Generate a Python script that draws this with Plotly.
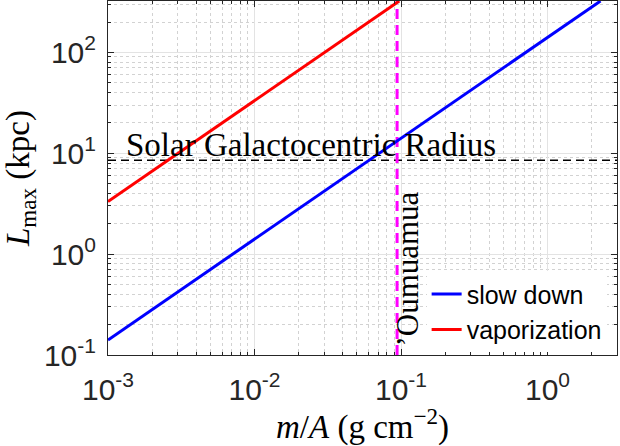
import plotly.graph_objects as go
import numpy as np

# data
slow_x = [0.001, 0.01, 0.1, 1.0, 2.3]
slow_y = [0.141, 1.41, 14.1, 141.0, 323.0]
vap_x = [0.001, 0.01, 0.0973]
vap_y = [3.32, 33.2, 323.0]
solar_radius = 8.5          # kpc
oumuamua_mA = 0.094         # g cm^-2
x_ticks = [1e-3, 1e-2, 1e-1, 1e0]
x_ticktext = ["10<sup>-3</sup>", "10<sup>-2</sup>", "10<sup>-1</sup>", "10<sup>0</sup>"]
y_ticks = [1e-1, 1e0, 1e1, 1e2]
y_ticktext = ["10<sup>-1</sup>", "10<sup>0</sup>", "10<sup>1</sup>", "10<sup>2</sup>"]

x_range = [1e-3, 2.98]
y_range = [0.1, 323.0]

def minor_vals(lo, hi):
    out = []
    for e in range(int(np.floor(np.log10(lo))), int(np.ceil(np.log10(hi))) + 1):
        for d in range(2, 10):
            v = d * 10.0 ** e
            if lo < v < hi:
                out.append(v)
    return out

fig = go.Figure()

fig.add_trace(go.Scatter(x=[x_range[0], x_range[1]], y=[solar_radius, solar_radius],
                         mode="lines", line=dict(color="black", width=1.5, dash="8px,5px"),
                         showlegend=False, hoverinfo="skip"))
fig.add_trace(go.Scatter(x=[oumuamua_mA, oumuamua_mA], y=y_range, mode="lines",
                         line=dict(color="#ff00ff", width=3, dash="10px,6px"),
                         showlegend=False, hoverinfo="skip"))
fig.add_trace(go.Scatter(x=slow_x, y=slow_y, mode="lines", name="slow down",
                         line=dict(color="#0000ff", width=3)))
fig.add_trace(go.Scatter(x=vap_x, y=vap_y, mode="lines", name="vaporization",
                         line=dict(color="#ff0000", width=3)))

serif = "Liberation Serif"
sans = "Liberation Sans, Arial"
axcol = "#262626"

common = dict(type="log", showline=True, linecolor=axcol, linewidth=1, mirror="allticks",
              ticks="inside", ticklen=6, tickcolor=axcol, showgrid=True, gridcolor="#e3e3e3",
              gridwidth=1, zeroline=False, automargin=False,
              tickfont=dict(family=sans, size=30, color=axcol))

fig.update_xaxes(range=[np.log10(x_range[0]), np.log10(x_range[1])],
                 tickmode="array", tickvals=x_ticks, ticktext=x_ticktext,
                 minor=dict(tickmode="array", tickvals=minor_vals(*x_range), ticks="inside",
                            ticklen=3, tickcolor=axcol, showgrid=True, gridcolor="#d2d2d2",
                            griddash="dot", gridwidth=1),
                 title=dict(text="<i>m</i>/<i>A</i> (g cm<sup>−2</sup>)",
                            font=dict(family=serif, size=33, color="black"), standoff=2),
                 ticklabelstandoff=8, **common)
fig.update_yaxes(range=[np.log10(y_range[0]), np.log10(y_range[1])],
                 tickmode="array", tickvals=y_ticks, ticktext=y_ticktext,
                 minor=dict(tickmode="array", tickvals=minor_vals(*y_range), ticks="inside",
                            ticklen=3, tickcolor=axcol, showgrid=True, gridcolor="#d2d2d2",
                            griddash="dot", gridwidth=1),
                 title=dict(text="<i>L</i><sub>max</sub> (kpc)",
                            font=dict(family=serif, size=33, color="black"), standoff=18),
                 ticklabelstandoff=5, **common)

fig.add_annotation(x=np.log10(0.00128), y=np.log10(solar_radius), xref="x", yref="y",
                   text="Solar Galactocentric Radius", showarrow=False,
                   xanchor="left", yanchor="bottom", yshift=-5,
                   font=dict(family=serif, size=33, color="black"))
fig.add_annotation(x=np.log10(0.11), y=np.log10(y_range[0]), xref="x", yref="y",
                   text="’Oumuamua", showarrow=False, textangle=-90,
                   xanchor="center", yanchor="bottom", yshift=6,
                   font=dict(family=serif, size=31, color="black"))

fig.update_layout(
    width=620, height=446,
    margin=dict(l=108, r=3, t=1, b=91),
    plot_bgcolor="white", paper_bgcolor="white",
    showlegend=True, hovermode=False,
    legend=dict(x=0.626, y=0.008, xanchor="left", yanchor="bottom",
                bgcolor="white", borderwidth=0, itemwidth=30,
                font=dict(family=sans, size=25, color="black"),
                tracegroupgap=0),
)

fig.write_html("out.html", config={"displayModeBar": False},
               post_script="document.body.style.margin='0';")
